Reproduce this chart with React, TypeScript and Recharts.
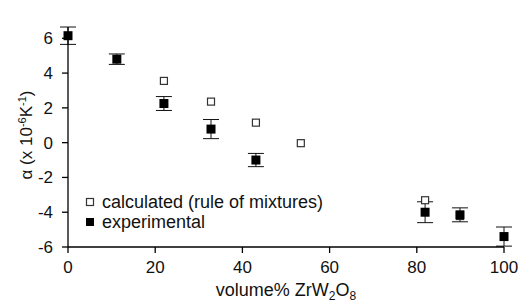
import { ScatterChart, Scatter, XAxis, YAxis, ErrorBar } from 'recharts';

const calcX = [22, 32.8, 43.1, 53.4, 81.9, 89.9];
const calcY = [3.55, 2.36, 1.15, -0.03, -3.31, -4.22];

const expX = [0, 11.2, 22, 32.8, 43.1, 81.9, 89.9, 100];
const expY = [6.15, 4.8, 2.25, 0.78, -1.0, -4.0, -4.15, -5.4];
const expErr = [0.5, 0.3, 0.4, 0.55, 0.38, 0.6, 0.4, 0.55];

const xTicks = [0, 20, 40, 60, 80, 100];
const yTicks = [-6, -4, -2, 0, 2, 4, 6];

const calcData = calcX.map((x, i) => ({ x, y: calcY[i] }));
const expData = expX.map((x, i) => ({ x, y: expY[i], err: expErr[i] }));

const FONT = '"Liberation Sans", Arial, sans-serif';

const OpenSquare = (p: any) => (
  <rect x={p.cx - 3.5} y={p.cy - 3.5} width={7} height={7} fill="#fff" stroke="#333" strokeWidth={1.2} />
);
const FilledSquare = (p: any) => (
  <rect x={p.cx - 4.5} y={p.cy - 4.5} width={9} height={9} fill="#000" />
);

const YLabel = () => (
  <text x={32} y={135} transform="rotate(-90, 32, 135)" textAnchor="middle" fontFamily={FONT} fontSize={17} fill="#111">
    α (x 10<tspan dy={-6} fontSize={11}>-6</tspan>
    <tspan dy={6}>K</tspan>
    <tspan dy={-6} fontSize={11}>-1</tspan>
    <tspan dy={6}>)</tspan>
  </text>
);

const XLabel = () => (
  <text x={286} y={296} textAnchor="middle" fontFamily={FONT} fontSize={18} fill="#111">
    volume% ZrW<tspan dy={4} fontSize={12}>2</tspan>
    <tspan dy={-4}>O</tspan>
    <tspan dy={4} fontSize={12}>8</tspan>
  </text>
);

const LegendBox = () => (
  <div style={{ position: 'absolute', left: 85, top: 192, fontFamily: FONT, fontSize: 18, color: '#111', lineHeight: '20px' }}>
    <div style={{ display: 'flex', alignItems: 'center' }}>
      <svg width={17} height={10}><rect x={1.5} y={1.5} width={7} height={7} fill="#fff" stroke="#333" strokeWidth={1.2} /></svg>
      <span>calculated (rule of mixtures)</span>
    </div>
    <div style={{ display: 'flex', alignItems: 'center' }}>
      <svg width={17} height={10}><rect x={1} y={1} width={8} height={8} fill="#000" /></svg>
      <span>experimental</span>
    </div>
  </div>
);

export default function App() {
  return (
    <div style={{ position: 'absolute', left: 0, top: 0, width: 521, height: 303 }}>
      <ScatterChart width={521} height={303} margin={{ top: 27, right: 17, bottom: 26, left: 8 }}>
        <XAxis
          type="number"
          dataKey="x"
          domain={[0, 100]}
          ticks={xTicks}
          tickSize={6}
          tickMargin={8}
          stroke="#000"
          strokeWidth={1.3}
          height={30}
          tick={{ fill: '#111', fontSize: 17, fontFamily: FONT }}
          label={{ content: XLabel }}
        />
        <YAxis
          type="number"
          dataKey="y"
          domain={[-6, 6]}
          ticks={yTicks}
          tickSize={6}
          tickMargin={9}
          stroke="#000"
          strokeWidth={1.3}
          width={60}
          tick={{ fill: '#111', fontSize: 17, fontFamily: FONT }}
          label={{ content: YLabel }}
        />
        <Scatter data={calcData} shape={OpenSquare} isAnimationActive={false} />
        <Scatter data={expData} shape={FilledSquare} isAnimationActive={false}>
          <ErrorBar dataKey="err" direction="y" width={8} stroke="#111" strokeWidth={1} />
        </Scatter>
      </ScatterChart>
      <LegendBox />
    </div>
  );
}
